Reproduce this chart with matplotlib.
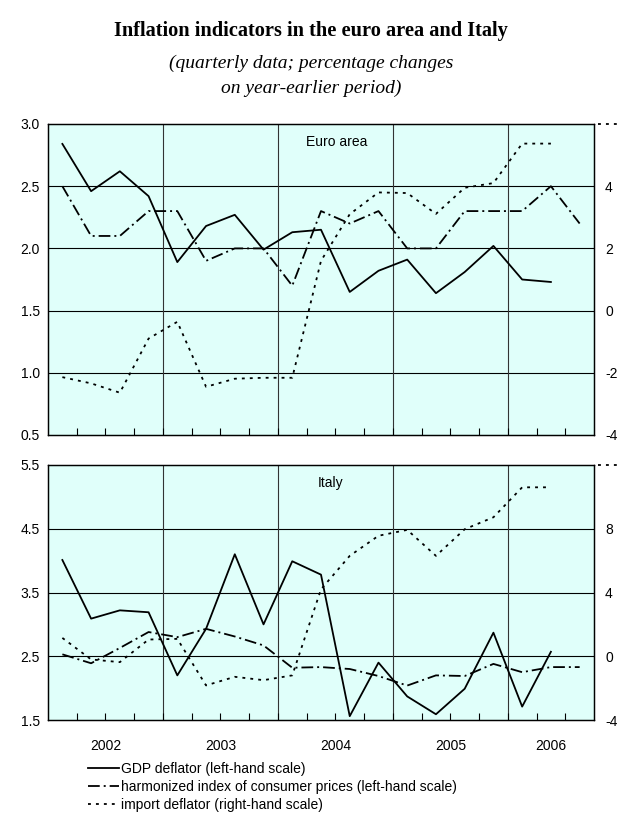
import numpy as np
import matplotlib
matplotlib.use('Agg')
import matplotlib.pyplot as plt
from matplotlib.lines import Line2D

plt.rcParams['font.family'] = ['Liberation Sans', 'DejaVu Sans']

#################
# Chart values  #
#################

# quarters 2002Q1 .. 2006Q3
years = ['2002', '2003', '2004', '2005', '2006']

ea_gdp = [2.84, 2.46, 2.62, 2.42, 1.89, 2.18, 2.27, 1.99, 2.13, 2.15,
          1.65, 1.82, 1.91, 1.64, 1.81, 2.02, 1.75, 1.73, np.nan]
ea_hicp = [2.5, 2.1, 2.1, 2.3, 2.3, 1.9, 2.0, 2.0, 1.7, 2.3,
           2.2, 2.3, 2.0, 2.0, 2.3, 2.3, 2.3, 2.5, 2.2]
ea_imp = [-2.14, -2.34, -2.64, -0.9, -0.36, -2.45, -2.19, -2.16, -2.16, 1.6,
          3.1, 3.8, 3.78, 3.11, 3.95, 4.1, 5.37, 5.37, np.nan]

it_gdp = [4.01, 3.09, 3.22, 3.19, 2.20, 2.93, 4.10, 3.00, 3.99, 3.78,
          1.56, 2.40, 1.87, 1.59, 1.99, 2.87, 1.71, 2.57, np.nan]
it_hicp = [2.53, 2.39, 2.63, 2.88, 2.80, 2.93, 2.81, 2.67, 2.32, 2.33,
           2.30, 2.19, 2.04, 2.20, 2.19, 2.38, 2.25, 2.33, 2.33]
it_imp = [1.15, -0.2, -0.37, 1.05, 1.09, -1.83, -1.29, -1.5, -1.2, 4.2,
          6.3, 7.56, 7.93, 6.3, 7.97, 8.72, 10.6, 10.6, np.nan]

'''
Line styles.
'''

lw = 1.3
st_gdp = dict(color='black', lw=lw, ls='-')
st_hicp = dict(color='black', lw=lw, ls=(0, (6.5, 2.2, 1.1, 2.2)))
st_imp = dict(color='black', lw=lw, ls=(0, (1.6, 2.8)))

x = np.arange(len(ea_gdp)) + 0.5
nq = len(ea_gdp)

fig = plt.figure(figsize=(6.22, 8.18), dpi=100)

fig.text(0.5, 1 - 31/818, 'Inflation indicators in the euro area and Italy',
         ha='center', va='center', fontsize=14.7, fontweight='bold',
         family='Liberation Serif')
fig.text(0.5, 1 - 63/818, '(quarterly data; percentage changes',
         ha='center', va='center', fontsize=14, style='italic',
         family='Liberation Serif')
fig.text(0.5, 1 - 88/818, 'on year-earlier period)',
         ha='center', va='center', fontsize=14, style='italic',
         family='Liberation Serif')

panels = [
    dict(rect=[48/622, 1-435/818, 546/622, 311/818], gdp=ea_gdp, hicp=ea_hicp,
         imp=ea_imp, ylim=(0.5, 3.0), yt=np.arange(0.5, 3.01, 0.5),
         ylim2=(-4, 6), yt2=[-4, -2, 0, 2, 4], name='Euro area',
         namepos=(0.529, 1 - 18/311), ticklabels=False),
    dict(rect=[48/622, 1-720/818, 546/622, 255/818], gdp=it_gdp, hicp=it_hicp,
         imp=it_imp, ylim=(1.5, 5.5), yt=[1.5, 2.5, 3.5, 4.5, 5.5],
         ylim2=(-4, 12), yt2=[-4, 0, 4, 8], name='Italy',
         namepos=(0.518, 1 - 18/255), ticklabels=True),
]

for p in panels:
    ax = fig.add_axes(p['rect'])
    ax.set_facecolor('#e0fffa')
    ax.set_xlim(0, nq)
    ax.set_ylim(*p['ylim'])
    ax.set_yticks(p['yt'])
    ax.set_yticklabels(['%.1f' % v for v in p['yt']], fontsize=10)
    ax.tick_params(axis='y', length=0, pad=6)
    for v in p['yt'][1:-1]:
        ax.axhline(v, color='black', lw=0.8, zorder=1)
    for b in [4, 8, 12, 16]:
        ax.axvline(b, color='#333333', lw=0.8, zorder=1)

    # quarter ticks inside the bottom axis, year labels centred on each year
    ax.set_xticks(np.arange(1, nq), minor=True)
    ax.set_xticks([])
    ax.tick_params(axis='x', which='minor', direction='in', length=5, width=0.8)
    if p['ticklabels']:
        centers = [2, 6, 10, 14, 17.5]
        for c, yl in zip(centers, years):
            ax.text(c, -0.1, yl, transform=ax.get_xaxis_transform(),
                    ha='center', va='center', fontsize=10)

    ax2 = ax.twinx()
    ax2.set_ylim(*p['ylim2'])
    ax2.set_yticks(p['yt2'])
    ax2.set_yticklabels([str(v) for v in p['yt2']], fontsize=10)
    ax2.tick_params(axis='y', length=0, pad=8)

    ax.plot(x, p['gdp'], zorder=3, **st_gdp)
    ax.plot(x, p['hicp'], zorder=3, **st_hicp)
    ax2.plot(x, p['imp'], zorder=3, **st_imp)

    ax2.plot([1.007, 1.05], [1.0, 1.0], transform=ax2.transAxes, clip_on=False,
             **st_imp)

    ax.text(p['namepos'][0], p['namepos'][1], p['name'], transform=ax.transAxes,
            ha='center', va='center', fontsize=10)

    for a in (ax, ax2):
        for s in a.spines.values():
            s.set_linewidth(0.9)

handles = [Line2D([], [], **st_gdp), Line2D([], [], **st_hicp),
           Line2D([], [], **st_imp)]
labels = ['GDP deflator (left-hand scale)',
          'harmonized index of consumer prices (left-hand scale)',
          'import deflator (right-hand scale)']
fig.legend(handles, labels, loc='upper left', bbox_to_anchor=(88/622, 1-762/818),
           frameon=False, fontsize=10, handlelength=2.2, handletextpad=0.15,
           labelspacing=0.3, borderaxespad=0, borderpad=0)

plt.savefig('out.png', dpi=100)
